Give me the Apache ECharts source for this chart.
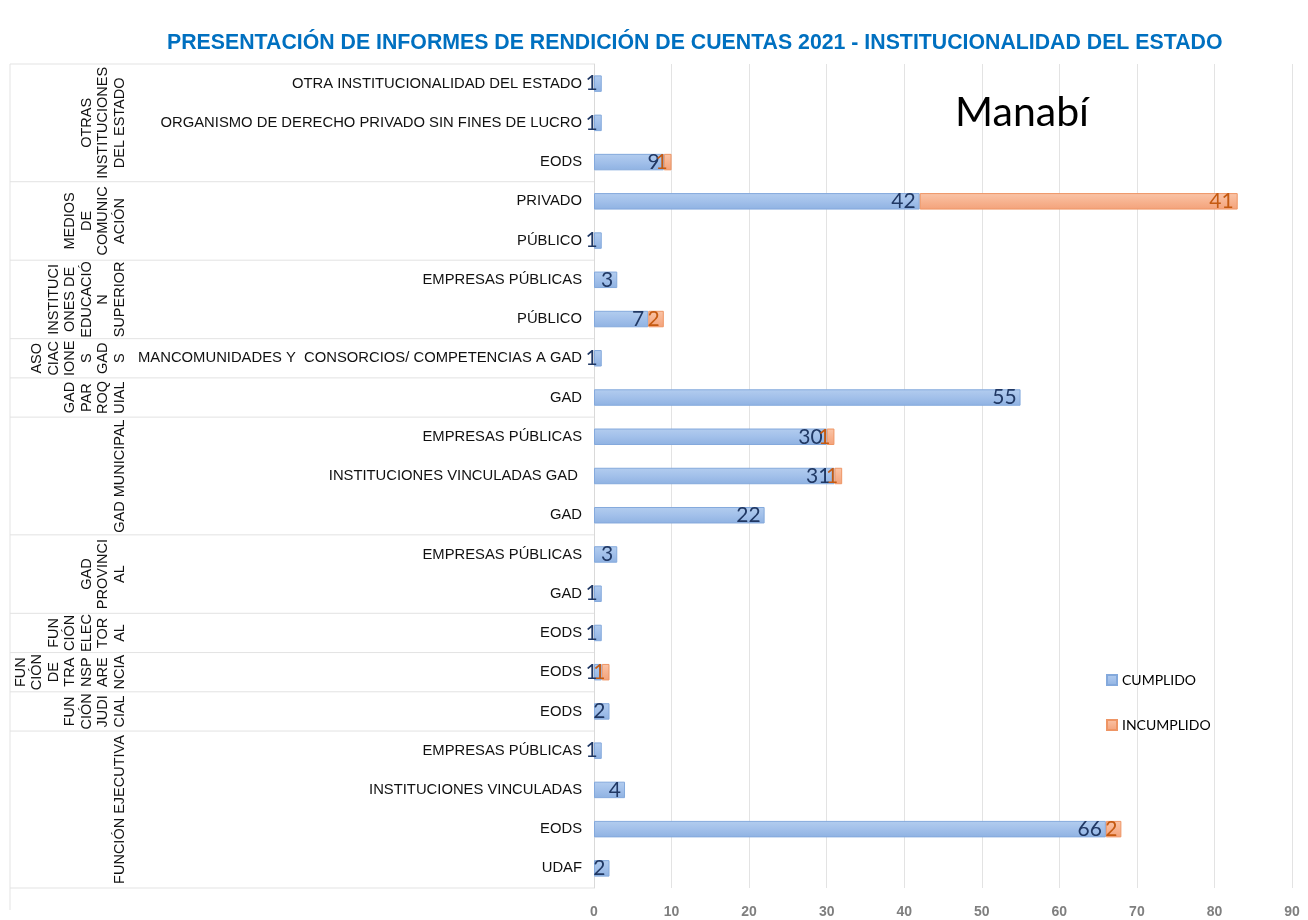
<!DOCTYPE html>
<html>
<head>
<meta charset="utf-8">
<script src="https://cdn.jsdelivr.net/npm/echarts@6/dist/echarts.min.js"></script>
<style>html,body{margin:0;padding:0;background:#fff;}#c{width:1308px;height:920px;}</style>
</head>
<body>
<div id="c"></div>
<script>
const rowLabels = [
  'OTRA INSTITUCIONALIDAD DEL ESTADO',
  'ORGANISMO DE DERECHO PRIVADO SIN FINES DE LUCRO',
  'EODS',
  'PRIVADO',
  'PÚBLICO',
  'EMPRESAS PÚBLICAS',
  'PÚBLICO',
  'MANCOMUNIDADES Y  CONSORCIOS/ COMPETENCIAS A GAD',
  'GAD',
  'EMPRESAS PÚBLICAS',
  'INSTITUCIONES VINCULADAS GAD ',
  'GAD',
  'EMPRESAS PÚBLICAS',
  'GAD',
  'EODS',
  'EODS',
  'EODS',
  'EMPRESAS PÚBLICAS',
  'INSTITUCIONES VINCULADAS',
  'EODS',
  'UDAF'
];
const cumplido   = [1, 1, 9, 42, 1, 3, 7, 1, 55, 30, 31, 22, 3, 1, 1, 1, 2, 1, 4, 66, 2];
const incumplido = [0, 0, 1, 41, 0, 0, 2, 0, 0, 1, 1, 0, 0, 0, 0, 1, 0, 0, 0, 2, 0];
const groupLabels = [
  'OTRAS\nINSTITUCIONES\nDEL ESTADO',
  'MEDIOS\nDE\nCOMUNIC\nACIÓN',
  'INSTITUCI\nONES DE\nEDUCACIÓ\nN\nSUPERIOR',
  'ASO\nCIAC\nIONE\nS\nGAD\nS',
  'GAD\nPAR\nROQ\nUIAL',
  'GAD MUNICIPAL',
  'GAD\nPROVINCI\nAL',
  'FUN\nCIÓN\nELEC\nTOR\nAL',
  'FUN\nCIÓN\nDE\nTRA\nNSP\nARE\nNCIA',
  'FUN\nCIÓN\nJUDI\nCIAL',
  'FUNCIÓN EJECUTIVA'
];
const groupSizes = [3, 2, 2, 1, 1, 3, 2, 1, 1, 1, 4];
const xTicks = [0, 10, 20, 30, 40, 50, 60, 70, 80, 90];

const chart = echarts.init(document.getElementById('c'), null, {renderer: 'canvas'});
const calibri = 'Lato, "Open Sans", sans-serif';
const arial = '"Liberation Sans", Arial, sans-serif';
const option = {
  animation: false,
  backgroundColor: '#ffffff',
  title: {
    text: 'PRESENTACIÓN DE INFORMES DE RENDICIÓN DE CUENTAS 2021 - INSTITUCIONALIDAD DEL ESTADO',
    left: 162, top: 28,
    textStyle: {color: '#0070c0', fontSize: 21.3, fontWeight: 'bold', fontFamily: arial}
  },
  legend: {
    orient: 'vertical', left: 1101, top: 668, itemGap: 31,
    itemWidth: 10, itemHeight: 10, icon: 'rect',
    textStyle: {fontFamily: calibri, fontSize: 14, color: '#000'},
    data: ['CUMPLIDO', 'INCUMPLIDO']
  },
  grid: {left: 594, right: 16, top: 64, bottom: 32, containLabel: false},
  xAxis: {
    type: 'value', min: 0, max: 90, interval: 10,
    axisLine: {show: false}, axisTick: {show: false},
    splitLine: {lineStyle: {color: '#e3e3e3', width: 1}},
    axisLabel: {margin: 17, color: '#7f7f7f', fontWeight: 'bold', fontSize: 14, fontFamily: arial,
      formatter: v => xTicks.indexOf(v) >= 0 ? String(v) : ''}
  },
  yAxis: {
    type: 'category', inverse: true, data: rowLabels,
    axisLine: {show: true, lineStyle: {color: '#d9d9d9'}}, axisTick: {show: false},
    axisLabel: {margin: 12, color: '#111', fontSize: 14.8, fontFamily: arial, interval: 0}
  },
  series: [
    {
      name: 'CUMPLIDO', type: 'bar', stack: 'a', barWidth: '42%',
      data: cumplido.map(v => v === 0 ? null : v),
      itemStyle: {
        color: new echarts.graphic.LinearGradient(0, 0, 0, 1, [
          {offset: 0, color: '#b3cdef'}, {offset: 0.5, color: '#a2c0ea'}, {offset: 1, color: '#8fb2e2'}
        ]),
        borderColor: '#84a9dc', borderWidth: 1
      },
      label: {show: true, position: 'insideRight', distance: 4, color: '#203864', fontSize: 21, fontFamily: calibri,
        formatter: p => p.value ? String(p.value) : ''}
    },
    {
      name: 'INCUMPLIDO', type: 'bar', stack: 'a', barWidth: '42%',
      data: incumplido.map(v => v === 0 ? null : v),
      itemStyle: {
        color: new echarts.graphic.LinearGradient(0, 0, 0, 1, [
          {offset: 0, color: '#fac5a8'}, {offset: 0.5, color: '#f7b390'}, {offset: 1, color: '#f3a27a'}
        ]),
        borderColor: '#ee9565', borderWidth: 1
      },
      label: {show: true, position: 'insideRight', distance: 4, color: '#c55a11', fontSize: 21, fontFamily: calibri,
        formatter: p => p.value ? String(p.value) : ''}
    }
  ]
};
chart.setOption(option);

function drawGroups() {
  const yOf = i => chart.convertToPixel({yAxisIndex: 0}, i);
  const step = yOf(1) - yOf(0);
  const top = yOf(0) - step / 2;
  const bottom = yOf(rowLabels.length - 1) + step / 2;
  const axisX = chart.convertToPixel({xAxisIndex: 0}, 0);
  const leftX = 10;
  const elems = [];
  const line = (x1, y1, x2, y2) => ({type: 'line', silent: true, shape: {x1, y1, x2, y2}, style: {stroke: '#e3e3e3', lineWidth: 1}});
  elems.push(line(leftX, top, axisX, top));
  elems.push(line(leftX, bottom, axisX, bottom));
  elems.push(line(leftX, top, leftX, 910));
  let start = 0;
  groupSizes.forEach((n, g) => {
    const end = start + n - 1;
    const yc = (yOf(start) + yOf(end)) / 2;
    if (g > 0) {
      const yb = yOf(start) - step / 2;
      elems.push(line(leftX, yb, axisX, yb));
    }
    elems.push({
      type: 'text', silent: true, x: 128, y: yc, rotation: Math.PI / 2,
      style: {text: groupLabels[g], fill: '#111', fontSize: 14.5, lineHeight: 16.5,
        fontFamily: arial, align: 'center', verticalAlign: 'bottom'}
    });
    start += n;
  });
  elems.push({
    type: 'text', silent: true, x: 1022, y: 113,
    style: {text: 'Manabí', fill: '#000', fontSize: 41, fontFamily: calibri, align: 'center', verticalAlign: 'middle'}
  });
  chart.setOption({graphic: {elements: elems}});
}
drawGroups();
</script>
</body>
</html>
